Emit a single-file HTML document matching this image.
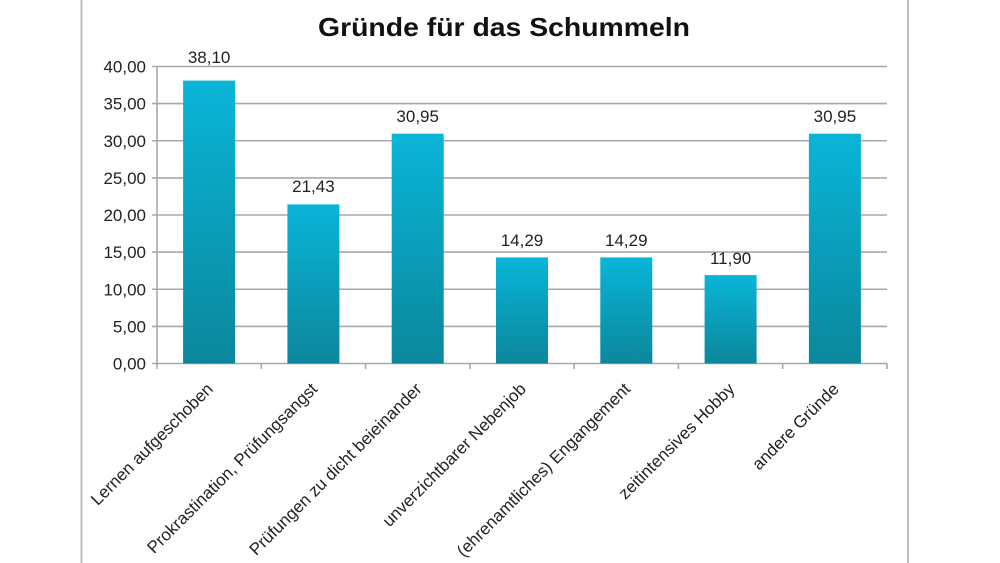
<!DOCTYPE html>
<html>
<head>
<meta charset="utf-8">
<style>
html,body{margin:0;padding:0;background:#fff;}
svg{display:block;}
text{font-family:"Liberation Sans",sans-serif;}
</style>
</head>
<body>
<svg width="1000" height="563" viewBox="0 0 1000 563" xmlns="http://www.w3.org/2000/svg">
<defs>
<linearGradient id="g" x1="0" y1="0" x2="0" y2="1">
<stop offset="0" stop-color="#0ab5d8"/>
<stop offset="1" stop-color="#0b879c"/>
</linearGradient>
</defs>
<rect width="1000" height="563" fill="#fff"/>
<!-- outer border lines -->
<line x1="81.5" y1="0" x2="81.5" y2="563" stroke="#bdbdbd" stroke-width="2"/>
<line x1="908" y1="0" x2="908" y2="563" stroke="#bdbdbd" stroke-width="2"/>

<!-- title -->
<text x="318" y="36" font-size="26" font-weight="bold" fill="#111" textLength="372" lengthAdjust="spacingAndGlyphs">Gründe für das Schummeln</text>

<!-- gridlines -->
<g stroke="#a8a8a8" stroke-width="1.6">
<line x1="152" y1="66.5" x2="887" y2="66.5"/>
<line x1="152" y1="103.6" x2="887" y2="103.6"/>
<line x1="152" y1="140.75" x2="887" y2="140.75"/>
<line x1="152" y1="177.9" x2="887" y2="177.9"/>
<line x1="152" y1="215" x2="887" y2="215"/>
<line x1="152" y1="252.1" x2="887" y2="252.1"/>
<line x1="152" y1="289.25" x2="887" y2="289.25"/>
<line x1="152" y1="326.4" x2="887" y2="326.4"/>
<line x1="152" y1="363.5" x2="887" y2="363.5"/>
<line x1="157" y1="66.5" x2="157" y2="363.5"/>
<line x1="157" y1="363.5" x2="157" y2="369"/>
<line x1="261.3" y1="363.5" x2="261.3" y2="369"/>
<line x1="365.6" y1="363.5" x2="365.6" y2="369"/>
<line x1="469.9" y1="363.5" x2="469.9" y2="369"/>
<line x1="574.1" y1="363.5" x2="574.1" y2="369"/>
<line x1="678.4" y1="363.5" x2="678.4" y2="369"/>
<line x1="782.7" y1="363.5" x2="782.7" y2="369"/>
<line x1="887" y1="363.5" x2="887" y2="369"/>
</g>

<!-- y labels -->
<g font-size="17" fill="#222" text-anchor="end">
<text x="146" y="72.5">40,00</text>
<text x="146" y="109.6">35,00</text>
<text x="146" y="146.75">30,00</text>
<text x="146" y="183.9">25,00</text>
<text x="146" y="221">20,00</text>
<text x="146" y="258.1">15,00</text>
<text x="146" y="295.25">10,00</text>
<text x="146" y="332.4">5,00</text>
<text x="146" y="369.5">0,00</text>
</g>

<!-- bars -->
<g fill="url(#g)">
<rect x="183.1" y="80.6" width="52" height="282.9"/>
<rect x="287.4" y="204.4" width="52" height="159.1"/>
<rect x="391.7" y="133.7" width="52" height="229.8"/>
<rect x="496" y="257.4" width="52" height="106.1"/>
<rect x="600.3" y="257.4" width="52" height="106.1"/>
<rect x="704.6" y="275.1" width="52" height="88.4"/>
<rect x="808.9" y="133.7" width="52" height="229.8"/>
</g>

<!-- data labels -->
<g font-size="17" fill="#222" text-anchor="middle">
<text x="209.1" y="63">38,10</text>
<text x="313.4" y="192">21,43</text>
<text x="417.7" y="122">30,95</text>
<text x="522" y="246">14,29</text>
<text x="626.3" y="246">14,29</text>
<text x="730.6" y="264">11,90</text>
<text x="834.9" y="122">30,95</text>
</g>

<!-- category labels -->
<g font-size="17" fill="#222" text-anchor="end">
<text transform="translate(214,390) rotate(-45)">Lernen aufgeschoben</text>
<text transform="translate(318.4,390) rotate(-45)">Prokrastination, Prüfungsangst</text>
<text transform="translate(422.7,390) rotate(-45)">Prüfungen zu dicht beieinander</text>
<text transform="translate(527,390) rotate(-45)">unverzichtbarer Nebenjob</text>
<text transform="translate(631.3,390) rotate(-45)">(ehrenamtliches) Engangement</text>
<text transform="translate(735.6,390) rotate(-45)">zeitintensives Hobby</text>
<text transform="translate(839.9,390) rotate(-45)">andere Gründe</text>
</g>
</svg>
</body>
</html>
